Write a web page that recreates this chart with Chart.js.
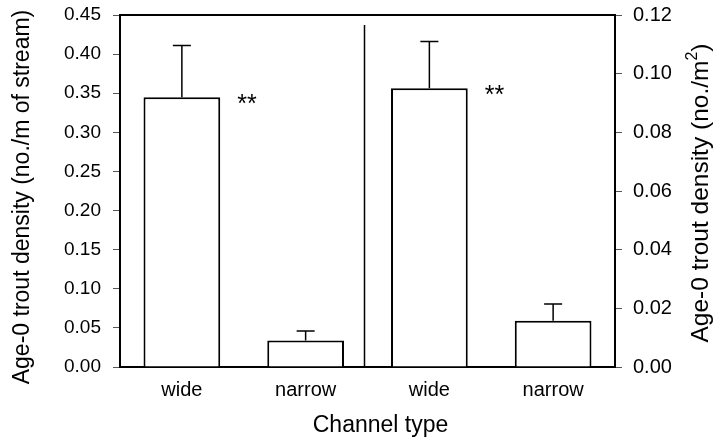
<!DOCTYPE html>
<html>
<head>
<meta charset="utf-8">
<script src="https://cdn.jsdelivr.net/npm/chart.js@4"></script>
<style>
html,body{margin:0;padding:0;background:#fff;}
#wrap{width:722px;height:442px;position:relative;}
</style>
</head>
<body>
<div id="wrap"><canvas id="c" width="722" height="442"></canvas></div>
<script>
const categories = ['wide', 'narrow', 'wide', 'narrow'];
const perLengthMeans = [0.345, 0.034, null, null];
const perLengthUpper = [0.411, 0.046, null, null];
const perAreaMeans = [null, null, 0.095, 0.0158];
const perAreaUpper = [null, null, 0.111, 0.0215];
const significance = ['**', '', '**', ''];
const leftTicks = [0, 0.05, 0.10, 0.15, 0.20, 0.25, 0.30, 0.35, 0.40, 0.45];
const rightTicks = [0, 0.02, 0.04, 0.06, 0.08, 0.10, 0.12];
const leftTitle = 'Age-0 trout density (no./m of stream)';
const rightTitleMain = 'Age-0 trout density (no./m';
const rightTitleSup = '2';
const rightTitleEnd = ')';
const xTitle = 'Channel type';

const FONT = "'Liberation Sans', Arial, Helvetica, sans-serif";

const extras = {
  id: 'extras',
  afterDatasetsDraw(chart) {
    const ctx = chart.ctx;
    const area = chart.chartArea;
    const x = chart.scales.x;
    ctx.save();
    chart.data.datasets.forEach((ds, di) => {
      const meta = chart.getDatasetMeta(di);
      const ys = chart.scales[ds.yAxisID];
      meta.data.forEach((bar, i) => {
        const v = ds.data[i];
        if (v === null || v === undefined) return;
        const up = ds.upper[i];
        const cx = bar.x;
        const yTop = ys.getPixelForValue(v);
        const yUp = ys.getPixelForValue(up);
        ctx.strokeStyle = '#000';
        ctx.lineWidth = 1.5;
        ctx.beginPath();
        ctx.moveTo(cx, yTop);
        ctx.lineTo(cx, yUp);
        ctx.moveTo(cx - 9, yUp);
        ctx.lineTo(cx + 9, yUp);
        ctx.stroke();
        const s = significance[i];
        if (s) {
          ctx.fillStyle = '#000';
          ctx.font = '25px ' + FONT;
          ctx.textAlign = 'left';
          ctx.textBaseline = 'alphabetic';
          ctx.fillText(s, bar.x + bar.width / 2 + 17, yTop + 15);
        }
      });
    });
    const xd = (x.getPixelForValue(1) + x.getPixelForValue(2)) / 2 - 3;
    ctx.strokeStyle = '#000';
    ctx.lineWidth = 1.5;
    ctx.beginPath();
    ctx.moveTo(xd, area.top + 10);
    ctx.lineTo(xd, area.bottom);
    ctx.stroke();
    ctx.lineWidth = 2;
    ctx.beginPath();
    ctx.moveTo(area.left - 1, area.top);
    ctx.lineTo(area.right + 1, area.top);
    ctx.stroke();

    ctx.fillStyle = '#000';
    // x axis title
    ctx.font = '23px ' + FONT;
    ctx.textAlign = 'center';
    ctx.textBaseline = 'middle';
    ctx.fillText(xTitle, (area.left + area.right) / 2 + 13, 426);

    // left axis title, reading bottom-to-top
    ctx.save();
    ctx.translate(23, (area.top + area.bottom) / 2 + 6);
    ctx.rotate(-Math.PI / 2);
    ctx.font = '23px ' + FONT;
    ctx.textAlign = 'center';
    ctx.textBaseline = 'middle';
    ctx.fillText(leftTitle, 0, 0);
    ctx.restore();

    // right axis title, reading bottom-to-top
    ctx.translate(701, (area.top + area.bottom) / 2 + 2);
    ctx.rotate(-Math.PI / 2);
    ctx.font = '24.5px ' + FONT;
    const w1 = ctx.measureText(rightTitleMain).width;
    ctx.font = '16px ' + FONT;
    const w2 = ctx.measureText(rightTitleSup).width;
    ctx.font = '24.5px ' + FONT;
    const w3 = ctx.measureText(rightTitleEnd).width;
    const total = w1 + w2 + w3;
    ctx.textBaseline = 'middle';
    ctx.textAlign = 'left';
    const sx = -total / 2;
    ctx.fillText(rightTitleMain, sx, 0);
    ctx.font = '16px ' + FONT;
    ctx.fillText(rightTitleSup, sx + w1, -8);
    ctx.font = '24.5px ' + FONT;
    ctx.fillText(rightTitleEnd, sx + w1 + w2, 0);
    ctx.restore();
  }
};

new Chart(document.getElementById('c'), {
  type: 'bar',
  data: {
    labels: categories,
    datasets: [
      {
        data: perLengthMeans,
        upper: perLengthUpper,
        yAxisID: 'y',
        backgroundColor: '#fff',
        borderColor: '#000',
        borderWidth: 2,
        grouped: false,
        categoryPercentage: 1,
        barPercentage: 0.62
      },
      {
        data: perAreaMeans,
        upper: perAreaUpper,
        yAxisID: 'y2',
        backgroundColor: '#fff',
        borderColor: '#000',
        borderWidth: 2,
        grouped: false,
        categoryPercentage: 1,
        barPercentage: 0.62
      }
    ]
  },
  options: {
    responsive: false,
    animation: false,
    devicePixelRatio: 1,
    layout: { padding: { top: 15, right: 0, left: 0, bottom: 0 } },
    plugins: { legend: { display: false }, tooltip: { enabled: false } },
    scales: {
      x: {
        offset: true,
        grid: { display: false, drawTicks: false },
        border: { display: true, color: '#000', width: 2 },
        ticks: { color: '#000', padding: 11, font: { family: FONT, size: 20 } },
        title: { display: false },
        afterFit(s) { s.height = 75; s.paddingLeft = 0; s.paddingRight = 0; }
      },
      y: {
        position: 'left',
        min: 0,
        max: 0.45,
        afterBuildTicks(s) { s.ticks = leftTicks.map(v => ({ value: v })); },
        grid: { drawOnChartArea: false, drawTicks: true, tickLength: 7, color: '#555', lineWidth: 1 },
        border: { display: true, color: '#000', width: 2 },
        ticks: { color: '#000', padding: 12, font: { family: FONT, size: 19 }, callback: v => Number(v).toFixed(2) },
        title: { display: false },
        afterFit(s) { s.width = 120; s.paddingTop = 0; s.paddingBottom = 0; }
      },
      y2: {
        position: 'right',
        min: 0,
        max: 0.12,
        afterBuildTicks(s) { s.ticks = rightTicks.map(v => ({ value: v })); },
        grid: { drawOnChartArea: false, drawTicks: true, tickLength: 7, color: '#555', lineWidth: 1 },
        border: { display: true, color: '#000', width: 2 },
        ticks: { color: '#000', padding: 11, font: { family: FONT, size: 20 }, callback: v => Number(v).toFixed(2) },
        title: { display: false },
        afterFit(s) { s.width = 107; s.paddingTop = 0; s.paddingBottom = 0; }
      }
    }
  },
  plugins: [extras]
});
</script>
</body>
</html>
